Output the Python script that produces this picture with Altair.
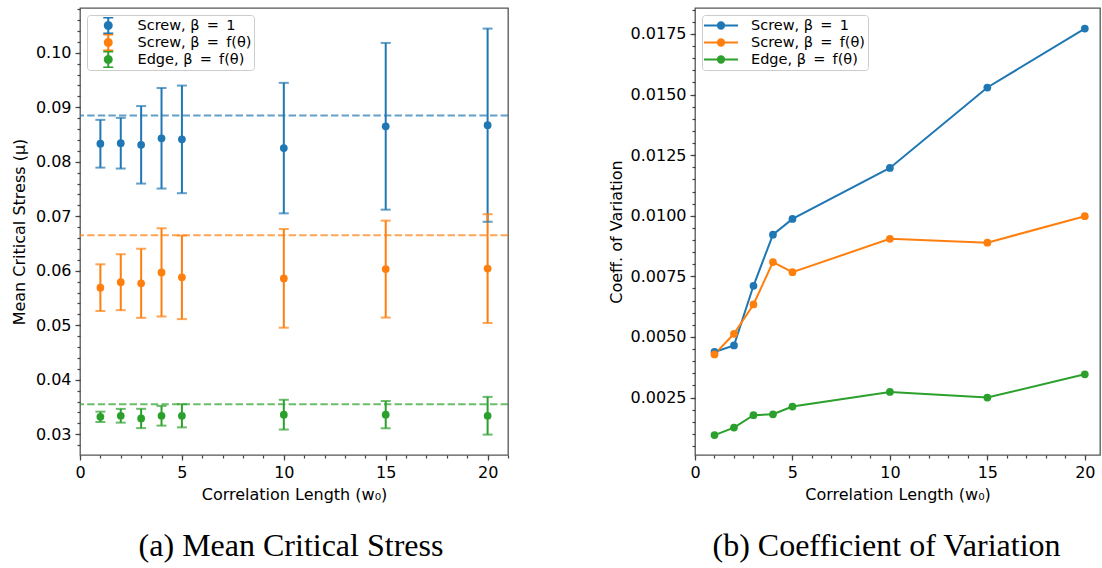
import altair as alt
import pandas as pd

# ---------------- data ----------------
w0 = [1, 2, 3, 4, 5, 10, 15, 20]
series = ["Screw, β\u2002=\u20021", "Screw, β\u2002=\u2002f(θ)", "Edge, β\u2002=\u2002f(θ)"]
colors = ["#1f77b4", "#ff7f0e", "#2ca02c"]

mean_screw1 = [0.0833, 0.0834, 0.0831, 0.0843, 0.0841, 0.0825, 0.0865, 0.0867]
mean_screwf = [0.0569, 0.0579, 0.0577, 0.0597, 0.0588, 0.0586, 0.0603, 0.0604]
mean_edgef = [0.0332, 0.0334, 0.0329, 0.0334, 0.0334, 0.0336, 0.0336, 0.0334]

cov_screw1 = [0.00438, 0.00465, 0.00711, 0.00922, 0.00987, 0.01197, 0.01529, 0.01772]
cov_screwf = [0.00428, 0.00513, 0.00634, 0.00809, 0.00767, 0.00905, 0.00889, 0.00998]
cov_edgef = [0.00095, 0.00126, 0.00177, 0.00181, 0.00213, 0.00273, 0.00250, 0.00346]

ref_lines = [0.0885, 0.0665, 0.0355]

x_major = [0, 5, 10, 15, 20]
x_minor_l = list(range(0, 22))
x_minor_r = list(range(0, 21))
yl_major = [0.03, 0.04, 0.05, 0.06, 0.07, 0.08, 0.09, 0.10]
yl_minor = [round(0.028 + 0.002 * i, 4) for i in range(41)]
yr_major = [0.0025, 0.0050, 0.0075, 0.0100, 0.0125, 0.0150, 0.0175]
yr_minor = [round(0.0005 * i, 5) for i in range(1, 38)]

rows = []
for s, ms, cs in zip(series, [mean_screw1, mean_screwf, mean_edgef],
                     [cov_screw1, cov_screwf, cov_edgef]):
    for xv, m, c in zip(w0, ms, cs):
        rows.append({"series": s, "w0": xv, "mean": m, "lo": m - c, "hi": m + c, "cov": c})
df = pd.DataFrame(rows)
ref_df = pd.DataFrame({"series": series, "ref": ref_lines})

font = "DejaVu Sans"
x_title = "Correlation Length (w₀)"


def major_axis(values, fmt, title, title_pad, orient):
    return alt.Axis(values=values, format=fmt, title=title, orient=orient,
                    tickSize=5, labelPadding=4, labelOverlap=False, labelFlush=False,
                    titlePadding=title_pad)


def minor_axis(values, orient):
    return alt.Axis(values=values, labels=False, title=None, orient=orient,
                    tickSize=3, domain=False, grid=False)


sc = alt.Scale(domain=series, range=colors)

err_legend = alt.Legend(
    title=None, orient="top-left", offset=7, rowPadding=0, padding=2, clipHeight=17,
    symbolSize=100,
    symbolType="M0,-1.6L0,1.6M-1,-1.6L1,-1.6M-1,1.6L1,1.6"
               "M-0.7,0A0.7,0.7 0 1,1 0.7,0A0.7,0.7 0 1,1 -0.7,0",
    symbolOffset=12, labelOffset=22,
)
line_legend = alt.Legend(
    title=None, orient="top-left", offset=7, rowPadding=0, padding=2, clipHeight=17,
    symbolType="M-2.43,0L2.43,0M-0.45,0A0.45,0.45 0 1,1 0.45,0A0.45,0.45 0 1,1 -0.45,0",
    symbolOffset=9, labelOffset=22,
)

xl_scale = alt.Scale(domain=[0, 21], nice=False, zero=False)
xr_scale = alt.Scale(domain=[0, 20.78], nice=False, zero=False)
yl_scale = alt.Scale(domain=[0.0262, 0.1082], nice=False, zero=False)
yr_scale = alt.Scale(domain=[0.00013, 0.01857], nice=False, zero=False)

# ---------------- left panel ----------------
base_l = alt.Chart(df)
bars = base_l.mark_rule(strokeWidth=2).encode(
    x=alt.X("w0:Q", scale=xl_scale, axis=major_axis(x_major, "d", x_title, 6, "bottom")),
    y=alt.Y("lo:Q", scale=yl_scale,
            axis=major_axis(yl_major, ".2f", "Mean Critical Stress (μ)", 8, "left")),
    y2="hi:Q",
    stroke=alt.Stroke("series:N", scale=sc, legend=err_legend, sort=series),
)
cap_lo = base_l.mark_tick(orient="horizontal", size=10, thickness=2).encode(
    x="w0:Q", y="lo:Q", color=alt.Color("series:N", scale=sc, legend=None))
cap_hi = base_l.mark_tick(orient="horizontal", size=10, thickness=2).encode(
    x="w0:Q", y="hi:Q", color=alt.Color("series:N", scale=sc, legend=None))
pts_l = base_l.mark_point(filled=True, size=60, opacity=1).encode(
    x="w0:Q", y="mean:Q",
    fill=alt.Fill("series:N", scale=sc, legend=err_legend, sort=series),
)
dash = alt.Chart(ref_df).mark_rule(strokeDash=[7.4, 3.2], strokeWidth=2, opacity=0.7).encode(
    y="ref:Q", color=alt.Color("series:N", scale=sc, legend=None))
minor_l = base_l.mark_point(opacity=0).encode(
    x=alt.X("w0:Q", scale=xl_scale, axis=minor_axis(x_minor_l, "bottom")),
    y=alt.Y("mean:Q", scale=yl_scale, axis=minor_axis(yl_minor, "left")),
)

left = alt.layer(
    alt.layer(bars, cap_lo, cap_hi, pts_l, dash), minor_l
).resolve_axis(x="independent", y="independent").properties(
    width=428, height=447,
    title=alt.Title("(a) Mean Critical Stress", orient="bottom", font="Liberation Serif",
                    fontSize=32, fontWeight="normal", color="black", offset=29, dx=-3,
                    frame="group", anchor="middle"),
)

# ---------------- right panel ----------------
base_r = alt.Chart(df)
lines = base_r.mark_line(strokeWidth=2).encode(
    x=alt.X("w0:Q", scale=xr_scale, axis=major_axis(x_major, "d", x_title, 6, "bottom")),
    y=alt.Y("cov:Q", scale=yr_scale,
            axis=major_axis(yr_major, ".4f", "Coeff. of Variation", 6, "left")),
    stroke=alt.Stroke("series:N", scale=sc, legend=line_legend, sort=series),
    order="w0:Q",
)
pts_r = base_r.mark_point(filled=True, size=60, opacity=1).encode(
    x="w0:Q", y="cov:Q",
    fill=alt.Fill("series:N", scale=sc, legend=line_legend, sort=series),
)
minor_r = base_r.mark_point(opacity=0).encode(
    x=alt.X("w0:Q", scale=xr_scale, axis=minor_axis(x_minor_r, "bottom")),
    y=alt.Y("cov:Q", scale=yr_scale, axis=minor_axis(yr_minor, "left")),
)
right = alt.layer(
    alt.layer(lines, pts_r), minor_r
).resolve_axis(x="independent", y="independent").properties(
    width=405, height=447,
    title=alt.Title("(b) Coefficient of Variation", orient="bottom", font="Liberation Serif",
                    fontSize=32, fontWeight="normal", color="black", offset=29, dx=-11,
                    frame="group", anchor="middle"),
)

chart = alt.hconcat(left, right, spacing=97).resolve_scale(
    color="independent", fill="independent", stroke="independent"
).resolve_legend(
    color="independent", fill="independent", stroke="independent"
).configure(
    padding={"left": 10, "top": 7, "right": 0, "bottom": 0},
    background="white",
).configure_view(
    stroke="#555555", strokeWidth=1.3,
).configure_axis(
    labelFont=font, labelFontSize=16, labelColor="black",
    titleFont=font, titleFontSize=16, titleFontWeight="normal", titleColor="black",
    tickColor="#444444", tickWidth=1.2, domain=False, grid=False,
).configure_legend(
    labelFont=font, labelFontSize=14.5, labelColor="black",
    symbolSize=196, symbolStrokeWidth=2,
    fillColor="rgba(255,255,255,0.8)", strokeColor="#cccccc", cornerRadius=3,
)

chart.save("out.html", embed_options={"renderer": "svg", "actions": False})
